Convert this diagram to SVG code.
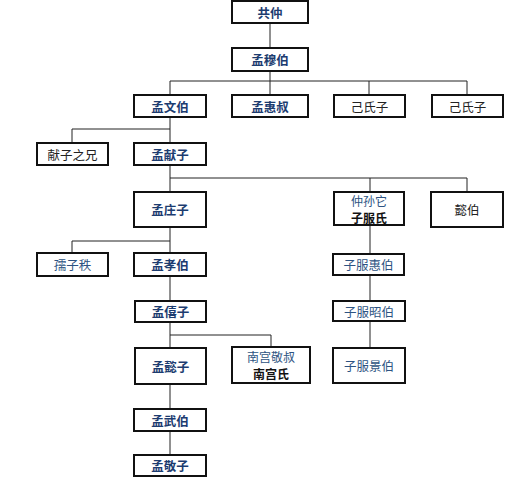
<svg xmlns="http://www.w3.org/2000/svg" width="524" height="480" viewBox="0 0 524 480">
<style>
.box{fill:#fff;stroke:#111;stroke-width:2}
.t{font-family:"Noto Sans CJK SC","Noto Sans CJK TC",sans-serif;font-size:12.5px;text-anchor:middle;dominant-baseline:central}
.s{font-size:12px}
.b{font-weight:bold;fill:#1c3c70}
.n{fill:#2d5382}
.k{fill:#222}
.kb{fill:#111;font-weight:bold}
.c line{stroke:#222;stroke-width:1}
</style>
<rect width="524" height="480" fill="#fff"/>
<g class="c" id="connectors">
<line x1="270" y1="23" x2="270" y2="48"/>
<line x1="270" y1="71" x2="270" y2="95"/>
<line x1="170" y1="81" x2="467" y2="81"/>
<line x1="170" y1="81" x2="170" y2="95"/>
<line x1="369" y1="81" x2="369" y2="95"/>
<line x1="467" y1="81" x2="467" y2="95"/>
<line x1="170" y1="117" x2="170" y2="143"/>
<line x1="72" y1="129" x2="170" y2="129"/>
<line x1="72" y1="129" x2="72" y2="143"/>
<line x1="170" y1="165" x2="170" y2="192"/>
<line x1="170" y1="178" x2="467" y2="178"/>
<line x1="370" y1="178" x2="370" y2="192"/>
<line x1="467" y1="178" x2="467" y2="192"/>
<line x1="170" y1="227" x2="170" y2="253"/>
<line x1="72" y1="241" x2="170" y2="241"/>
<line x1="72" y1="241" x2="72" y2="253"/>
<line x1="170" y1="276" x2="170" y2="301"/>
<line x1="370" y1="225" x2="370" y2="254"/>
<line x1="370" y1="275" x2="370" y2="301"/>
<line x1="370" y1="321" x2="370" y2="348"/>
<line x1="170" y1="322" x2="170" y2="348"/>
<line x1="170" y1="335" x2="271" y2="335"/>
<line x1="271" y1="335" x2="271" y2="347"/>
<line x1="170" y1="384" x2="170" y2="409"/>
<line x1="170" y1="431" x2="170" y2="455"/>
</g>
<g id="n1"><rect class="box" x="232" y="1" width="76" height="22"/><text class="t b" x="270" y="12">共仲</text></g>
<g id="n2"><rect class="box" x="232" y="48" width="76" height="23"/><text class="t b" x="270" y="59.5">孟穆伯</text></g>
<g id="n3"><rect class="box" x="134" y="95" width="72" height="22"/><text class="t b" x="170" y="106">孟文伯</text></g>
<g id="n4"><rect class="box" x="232" y="95" width="76" height="22"/><text class="t b" x="270" y="106">孟惠叔</text></g>
<g id="n5"><rect class="box" x="334" y="95" width="71" height="22"/><text class="t k" x="369.5" y="106">己氏子</text></g>
<g id="n6"><rect class="box" x="432" y="95" width="71" height="22"/><text class="t k" x="467.5" y="106">己氏子</text></g>
<g id="n7"><rect class="box" x="37" y="143" width="71" height="22"/><text class="t k" x="72.5" y="154">献子之兄</text></g>
<g id="n8"><rect class="box" x="134" y="143" width="72" height="22"/><text class="t b" x="170" y="154">孟献子</text></g>
<g id="n9"><rect class="box" x="134" y="192" width="72" height="35"/><text class="t b" x="170" y="209.5">孟庄子</text></g>
<g id="n10"><rect class="box" x="334" y="192" width="70" height="33"/><text class="t s n" x="369" y="200">仲孙它</text><text class="t s kb" x="369" y="217">子服氏</text></g>
<g id="n11"><rect class="box" x="431" y="192" width="72" height="35"/><text class="t k" x="467" y="209.5">懿伯</text></g>
<g id="n12"><rect class="box" x="37" y="253" width="71" height="23"/><text class="t n" x="72.5" y="264.5">孺子秩</text></g>
<g id="n13"><rect class="box" x="134" y="253" width="72" height="23"/><text class="t b" x="170" y="264.5">孟孝伯</text></g>
<g id="n14"><rect class="box" x="333" y="254" width="71" height="21"/><text class="t n" x="368.5" y="264.5">子服惠伯</text></g>
<g id="n15"><rect class="box" x="135" y="301" width="71" height="21"/><text class="t b" x="170.5" y="311.5">孟僖子</text></g>
<g id="n16"><rect class="box" x="333" y="301" width="72" height="20"/><text class="t n" x="369" y="311">子服昭伯</text></g>
<g id="n17"><rect class="box" x="135" y="348" width="71" height="36"/><text class="t b" x="170.5" y="366">孟懿子</text></g>
<g id="n18"><rect class="box" x="232" y="347" width="78" height="36"/><text class="t s n" x="271" y="356">南宫敬叔</text><text class="t s kb" x="271" y="373">南宫氏</text></g>
<g id="n19"><rect class="box" x="333" y="348" width="72" height="35"/><text class="t n" x="369" y="365.5">子服景伯</text></g>
<g id="n20"><rect class="box" x="134" y="409" width="72" height="22"/><text class="t b" x="170" y="420">孟武伯</text></g>
<g id="n21"><rect class="box" x="134" y="455" width="72" height="21"/><text class="t b" x="170" y="465.5">孟敬子</text></g>
</svg>
